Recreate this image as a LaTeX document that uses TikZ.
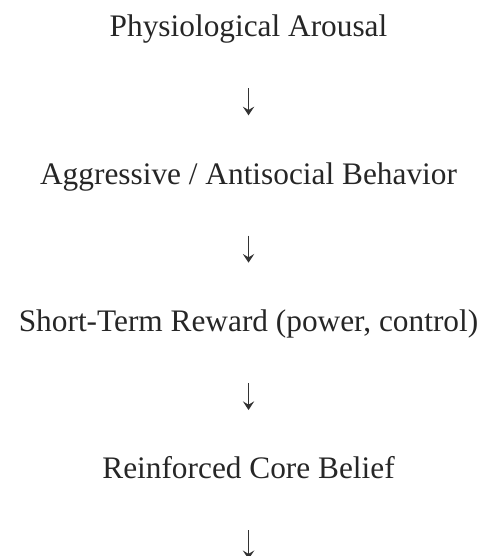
\documentclass[tikz,border=0pt]{standalone}
\usepackage{fontspec}
\setmainfont{Liberation Serif}
\usepackage{tikz}
\usetikzlibrary{arrows.meta, positioning}

\begin{document}
\begin{tikzpicture}[node distance=88.4pt]
        \tikzstyle{stage} = [inner sep=0pt, text height=16.5pt, text depth=5.2pt, text=black!85, font=\fontsize{23.5}{28}\selectfont]
        \tikzstyle{arrow} = [line width=0.9pt, draw=black!80, -{Stealth[length=6.5pt,width=8.5pt,inset=2.5pt]}, shorten <=33.3pt, shorten >=34.8pt]

        \useasboundingbox (0,0) rectangle (363.75pt,-417pt);

        \node (arousal) [stage, anchor=base] at (186.4pt,-27.5pt) {Physiological Arousal};
        \node (behav) [stage, below=of arousal] {Aggressive / Antisocial Behavior};
        \node (reward) [stage, below=of behav] {Short-Term Reward (power, control)};
        \node (belief) [stage, below=of reward] {Reinforced Core Belief};
        \coordinate (loop) at ([yshift=-55pt]belief.south);

        \draw [arrow] (arousal) -- (behav);
        \draw [arrow] (behav) -- (reward);
        \draw [arrow] (reward) -- (belief);
        \draw [arrow, shorten >=0pt] (belief.south) -- (loop);
\end{tikzpicture}
\end{document}
